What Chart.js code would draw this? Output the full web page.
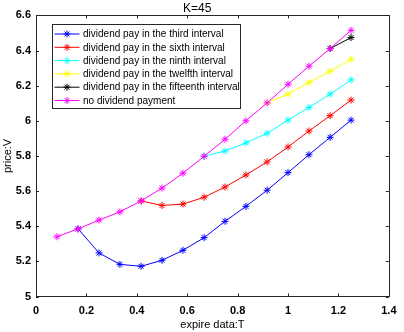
<!DOCTYPE html>
<html>
<head>
<meta charset="utf-8">
<script src="https://cdn.jsdelivr.net/npm/chart.js@4.4.1/dist/chart.umd.min.js"></script>
<style>
  html, body { margin: 0; padding: 0; background: #fff; }
  #wrap { width: 404px; height: 332px; }
</style>
</head>
<body>
<div id="wrap"><canvas id="myChart" width="404" height="332"></canvas></div>
<script>
// expire date T (months / 12)
var T = [0.083, 0.167, 0.25, 0.333, 0.417, 0.5, 0.583, 0.667, 0.75, 0.833, 0.917, 1.0, 1.083, 1.167, 1.25];

var third     = [null, 5.385, 5.248, 5.183, 5.172, 5.206, 5.263, 5.335, 5.428, 5.513, 5.605, 5.705, 5.807, 5.906, 6.004];
var sixth     = [null, null, null, null, 5.544, 5.518, 5.526, 5.565, 5.623, 5.692, 5.766, 5.851, 5.942, 6.029, 6.118];
var ninth     = [null, null, null, null, null, null, null, 5.798, 5.828, 5.874, 5.929, 6.004, 6.076, 6.152, 6.233];
var twelfth   = [null, null, null, null, null, null, null, null, null, null, 6.102, 6.152, 6.218, 6.282, 6.350];
var fifteenth = [null, null, null, null, null, null, null, null, null, null, null, null, null, 6.411, 6.474];
var noDiv     = [5.340, 5.385, 5.435, 5.482, 5.544, 5.617, 5.702, 5.798, 5.895, 6.000, 6.102, 6.208, 6.311, 6.411, 6.515];

var seriesNames = [
  "dividend pay in the third interval",
  "dividend pay in the sixth interval",
  "dividend pay in the ninth interval",
  "dividend pay in the twelfth interval",
  "dividend pay in the fifteenth interval",
  "no dividend payment"
];
var seriesColors = ["#0000ff", "#ff0000", "#00ffff", "#ffff00", "#000000", "#ff00ff"];

var xTicks = [0, 0.2, 0.4, 0.6, 0.8, 1, 1.2, 1.4];
var yTicks = [5, 5.2, 5.4, 5.6, 5.8, 6, 6.2, 6.4, 6.6];

var FONT = "'Liberation Sans', Arial, Helvetica, sans-serif";

function toPoints(vals) {
  var pts = [];
  for (var i = 0; i < vals.length; i++) {
    if (vals[i] != null) pts.push({x: T[i], y: vals[i]});
  }
  return pts;
}

var allSeries = [third, sixth, ninth, twelfth, fifteenth, noDiv];
var datasets = allSeries.map(function (vals, i) {
  return {
    label: seriesNames[i],
    data: toPoints(vals),
    borderColor: seriesColors[i],
    backgroundColor: seriesColors[i],
    borderWidth: 1,
    pointStyle: 'star',
    pointRadius: 3.5,
    pointBorderWidth: 1,
    pointHoverRadius: 3.5,
    tension: 0,
    order: allSeries.length - i   // later series on top, like matlab
  };
});

// box, inward ticks and legend drawn matlab-style
var matlabFrame = {
  id: 'matlabFrame',
  afterDatasetsDraw: function (chart) {
    var ctx = chart.ctx;
    var a = chart.chartArea;
    var xs = chart.scales.x, ys = chart.scales.y;
    ctx.save();
    ctx.strokeStyle = '#262626';
    ctx.lineWidth = 1;
    ctx.beginPath();
    xTicks.forEach(function (v) {
      var px = Math.round(xs.getPixelForValue(v)) + 0.5;
      ctx.moveTo(px, a.bottom); ctx.lineTo(px, a.bottom - 3);
      ctx.moveTo(px, a.top); ctx.lineTo(px, a.top + 3);
    });
    yTicks.forEach(function (v) {
      var py = Math.round(ys.getPixelForValue(v)) + 0.5;
      ctx.moveTo(a.left, py); ctx.lineTo(a.left + 3, py);
      ctx.moveTo(a.right, py); ctx.lineTo(a.right - 3, py);
    });
    ctx.stroke();
    ctx.strokeRect(Math.round(a.left) + 0.5, Math.round(a.top) + 0.5,
                   Math.round(a.right - a.left), Math.round(a.bottom - a.top));

    // legend
    var lx = 52.5, ly = 24.5, lw = 188, lh = 84, rowH = 13.3;
    ctx.fillStyle = '#fff';
    ctx.fillRect(lx, ly, lw, lh);
    ctx.strokeStyle = '#262626';
    ctx.strokeRect(lx, ly, lw, lh);
    ctx.font = '10px ' + FONT;
    ctx.textBaseline = 'middle';
    chart.data.datasets.forEach(function (ds, i) {
      var cy = ly + 9.5 + i * rowH;
      ctx.strokeStyle = ds.borderColor;
      ctx.beginPath();
      ctx.moveTo(lx + 2, cy); ctx.lineTo(lx + 27, cy);
      ctx.stroke();
      Chart.helpers.drawPoint(ctx, {pointStyle: 'star', radius: 3.5, borderWidth: 1}, lx + 14.5, cy);
      ctx.fillStyle = '#000';
      ctx.fillText(ds.label, lx + 30.5, cy + 0.5);
    });
    ctx.restore();
  }
};

function plainNum(v) { return String(v); }

var config = {
  type: 'line',
  data: { datasets: datasets },
  options: {
    responsive: false,
    animation: false,
    events: [],
    layout: { padding: { left: 0, right: 9.5, top: 0, bottom: 0 } },
    plugins: {
      legend: { display: false },
      tooltip: { enabled: false },
      title: {
        display: true,
        text: 'K=45',
        color: '#000',
        font: { family: FONT, size: 12, weight: 'normal', lineHeight: 1.2 },
        padding: { top: 1, bottom: 0 }
      }
    },
    scales: {
      x: {
        type: 'linear',
        min: 0, max: 1.4,
        afterBuildTicks: function (s) { s.ticks = xTicks.map(function (v) { return {value: v}; }); },
        afterFit: function (s) { s.height = 35.5; },
        grid: { display: false, drawTicks: false },
        border: { display: false },
        ticks: { color: '#000', padding: 7.5, maxRotation: 0, callback: plainNum,
                 font: { family: FONT, size: 11, weight: 'bold' } },
        title: { display: true, text: 'expire data:T', color: '#000', padding: 0,
                 font: { family: FONT, size: 11 } }
      },
      y: {
        type: 'linear',
        min: 5, max: 6.6,
        afterBuildTicks: function (s) { s.ticks = yTicks.map(function (v) { return {value: v}; }); },
        afterFit: function (s) { s.width = 36; },
        grid: { display: false, drawTicks: false },
        border: { display: false },
        ticks: { color: '#000', padding: 5, callback: plainNum,
                 font: { family: FONT, size: 11, weight: 'bold' } },
        title: { display: true, text: 'price:V', color: '#000', padding: { top: 1, bottom: 0 },
                 font: { family: FONT, size: 11 } }
      }
    }
  },
  plugins: [matlabFrame]
};

var myChart = new Chart(document.getElementById('myChart'), config);
</script>
</body>
</html>
